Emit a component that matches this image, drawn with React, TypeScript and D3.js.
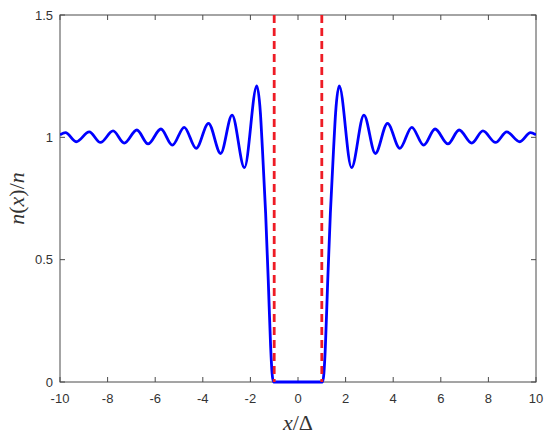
import React, { useEffect, useRef } from "react";
import * as d3 from "d3";

const xTicks = [-10, -8, -6, -4, -2, 0, 2, 4, 6, 8, 10];
const yTicks = [0, 0.5, 1, 1.5];
const yTickLabels = ["0", "0.5", "1", "1.5"];

const curveX = [
  -10, -9.77, -9.32, -8.77, -8.3, -7.77, -7.3, -6.77, -6.3, -5.76, -5.28, -4.78, -4.28, -3.76, -3.25, -2.77, -2.25, -1.73, -1.58, -1.5, -1.36, -1.25, -1.15, -1.09, -1.03,
  1.03, 1.09, 1.15, 1.25, 1.36, 1.5, 1.58, 1.73, 2.25, 2.77, 3.25, 3.76, 4.28, 4.78, 5.28, 5.76, 6.3, 6.77, 7.3, 7.77, 8.3, 8.77, 9.32, 9.77, 10,
];
const curveY = [
  1.01, 1.019, 0.982, 1.022, 0.979, 1.026, 0.976, 1.03, 0.973, 1.034, 0.968, 1.041, 0.955, 1.057, 0.934, 1.091, 0.876, 1.21, 1.1, 0.962, 0.69, 0.417, 0.144, 0.037, 0,
  0, 0.037, 0.144, 0.417, 0.69, 0.962, 1.1, 1.21, 0.876, 1.091, 0.934, 1.057, 0.955, 1.041, 0.968, 1.034, 0.973, 1.03, 0.976, 1.026, 0.979, 1.022, 0.982, 1.019, 1.01,
];
const boundaryX = [-1, 1];

const W = 550;
const H = 441;
const M = { left: 60, right: 14, top: 15, bottom: 59 };

if (typeof document !== "undefined") document.body.style.margin = "0";

export default function App() {
  const ref = useRef<SVGSVGElement>(null);

  useEffect(() => {
    const svg = d3.select(ref.current);
    svg.selectAll("*").remove();
    const x = d3.scaleLinear().domain([-10, 10]).range([M.left, W - M.right]);
    const y = d3.scaleLinear().domain([0, 1.5]).range([H - M.bottom, M.top]);
    const axisColor = "#4a4a4a";
    const tickLen = 5;

    svg.append("defs").append("clipPath").attr("id", "clip")
      .append("rect").attr("x", M.left).attr("y", M.top - 2)
      .attr("width", W - M.left - M.right).attr("height", H - M.top - M.bottom + 4);

    svg.append("rect")
      .attr("x", x(-10)).attr("y", y(1.5))
      .attr("width", x(10) - x(-10)).attr("height", y(0) - y(1.5))
      .attr("fill", "none").attr("stroke", axisColor).attr("stroke-width", 1);

    const g = svg.append("g");
    xTicks.forEach((t) => {
      g.append("line").attr("x1", x(t)).attr("x2", x(t)).attr("y1", y(0)).attr("y2", y(0) - tickLen).attr("stroke", axisColor);
      g.append("line").attr("x1", x(t)).attr("x2", x(t)).attr("y1", y(1.5)).attr("y2", y(1.5) + tickLen).attr("stroke", axisColor);
      g.append("text").attr("x", x(t)).attr("y", y(0) + 21)
        .attr("text-anchor", "middle").attr("font-family", "Liberation Sans, Arial, sans-serif")
        .attr("font-size", 13).attr("fill", "#333").text(String(t));
    });
    yTicks.forEach((t, i) => {
      g.append("line").attr("x1", x(-10)).attr("x2", x(-10) + tickLen).attr("y1", y(t)).attr("y2", y(t)).attr("stroke", axisColor);
      g.append("line").attr("x1", x(10)).attr("x2", x(10) - tickLen).attr("y1", y(t)).attr("y2", y(t)).attr("stroke", axisColor);
      g.append("text").attr("x", x(-10) - 7).attr("y", y(t) + 4.5)
        .attr("text-anchor", "end").attr("font-family", "Liberation Sans, Arial, sans-serif")
        .attr("font-size", 13).attr("fill", "#333").text(yTickLabels[i]);
    });

    const pts = curveX.map((v, i) => [v, curveY[i]] as [number, number]);
    const line = d3.line<[number, number]>()
      .x((d) => x(d[0])).y((d) => y(d[1]))
      .curve(d3.curveMonotoneX);
    svg.append("path").attr("d", line(pts) as string)
      .attr("clip-path", "url(#clip)")
      .attr("fill", "none").attr("stroke", "#0000ff").attr("stroke-width", 2.8)
      .attr("stroke-linejoin", "round");

    boundaryX.forEach((b) => {
      svg.append("line").attr("x1", x(b)).attr("x2", x(b)).attr("y1", y(1.5)).attr("y2", y(0))
        .attr("stroke", "#ee1c25").attr("stroke-width", 2.8).attr("stroke-dasharray", "8,5");
    });

    const xl = svg.append("text").attr("x", x(0)).attr("y", 430)
      .attr("text-anchor", "middle").attr("font-family", "Liberation Serif, Times New Roman, serif")
      .attr("font-size", 22).attr("fill", "#333");
    xl.append("tspan").attr("font-style", "italic").text("x");
    xl.append("tspan").text("/Δ");

    const yl = svg.append("text")
      .attr("transform", `translate(24, ${(y(0) + y(1.5)) / 2}) rotate(-90)`)
      .attr("text-anchor", "middle").attr("font-family", "Liberation Serif, Times New Roman, serif")
      .attr("font-size", 22).attr("fill", "#333");
    yl.append("tspan").attr("font-style", "italic").text("n");
    yl.append("tspan").text("(");
    yl.append("tspan").attr("font-style", "italic").text("x");
    yl.append("tspan").text(")/");
    yl.append("tspan").attr("font-style", "italic").text("n");
  }, []);

  return <svg ref={ref} width={W} height={H} style={{ display: "block", background: "#fff" }} />;
}
